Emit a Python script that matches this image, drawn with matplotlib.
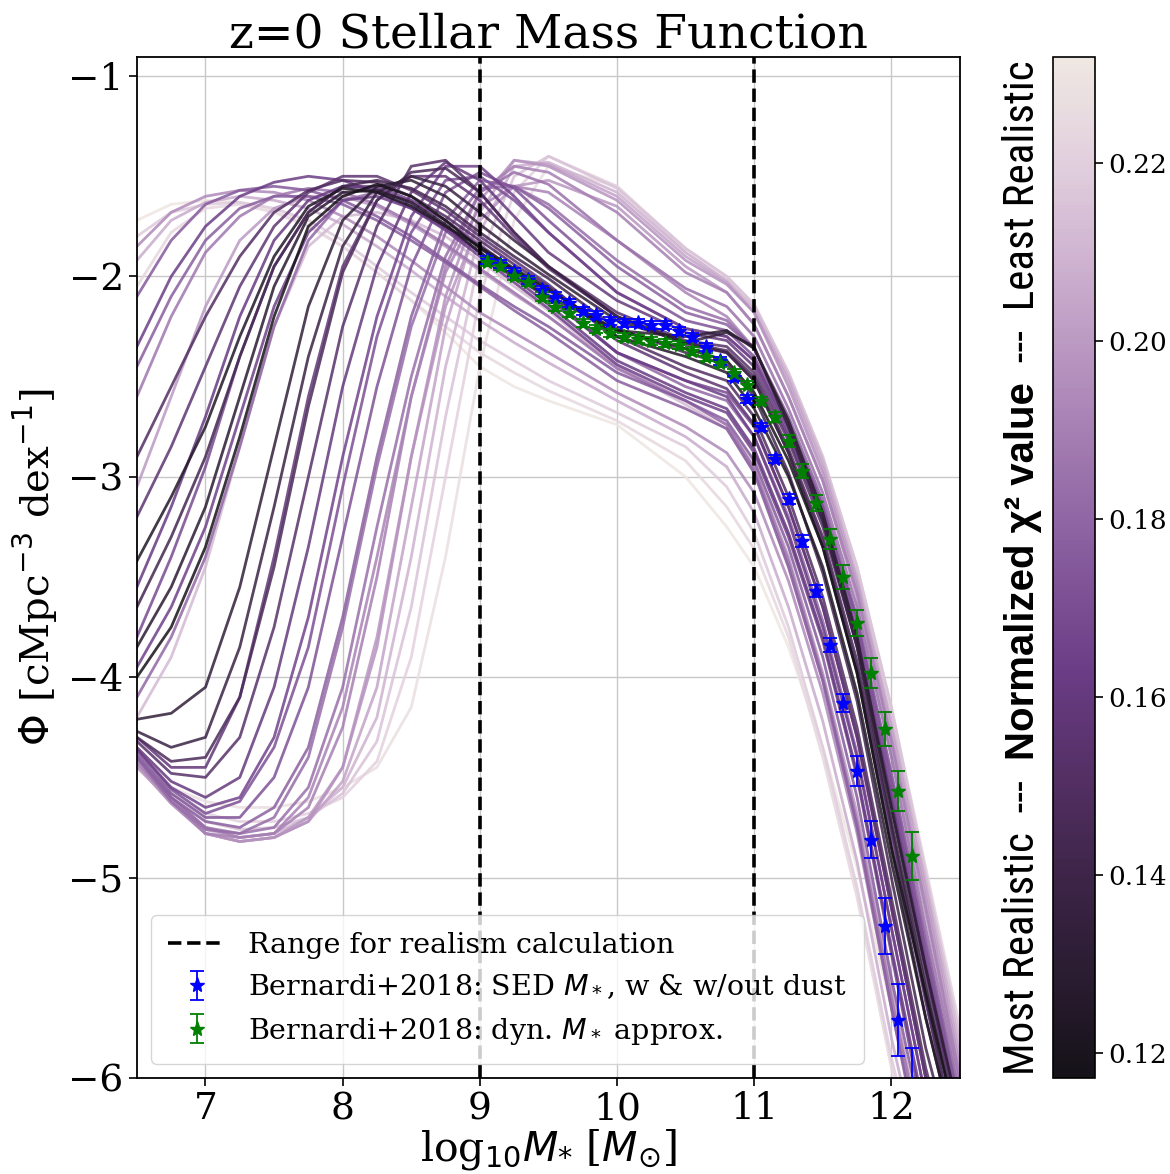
import matplotlib
matplotlib.use("Agg")
import numpy as np
import matplotlib.pyplot as plt
from matplotlib import font_manager as fm
from matplotlib.colors import Normalize, LinearSegmentedColormap
from matplotlib.cm import ScalarMappable

# ---------------- data ----------------
mass_grid = [6.5, 6.75, 7.0, 7.25, 7.5, 7.75, 8.0, 8.25, 8.5, 8.75, 9.0, 9.25, 9.5,
             10.0, 10.5, 10.8, 11.0, 11.25, 11.5, 11.75, 12.0, 12.25, 12.5]

chi2_dark = [0.118, 0.124, 0.128, 0.133, 0.138, 0.142, 0.146]
phi_dark = [
    [-4.00, -3.75, -3.35, -2.80, -2.20, -1.75, -1.60, -1.54, -1.60, -1.72, -1.86, -1.97, -2.07, -2.27, -2.36, -2.42, -2.58, -2.92, -3.35, -3.98, -4.85, -5.58, -6.30],
    [-3.42, -3.10, -2.75, -2.30, -1.90, -1.65, -1.56, -1.58, -1.65, -1.75, -1.85, -1.96, -2.06, -2.30, -2.40, -2.48, -2.66, -3.00, -3.45, -4.08, -4.92, -5.70, -6.40],
    [-3.85, -3.55, -3.15, -2.60, -2.05, -1.70, -1.58, -1.57, -1.63, -1.74, -1.88, -2.00, -2.10, -2.27, -2.30, -2.27, -2.36, -2.72, -3.18, -3.80, -4.65, -5.45, -6.20],
    [-4.21, -4.18, -4.05, -3.55, -2.85, -2.15, -1.72, -1.55, -1.52, -1.60, -1.74, -1.87, -1.99, -2.22, -2.33, -2.28, -2.35, -2.75, -3.22, -3.85, -4.72, -5.55, -6.30],
    [-4.27, -4.35, -4.30, -3.85, -3.15, -2.40, -1.85, -1.58, -1.50, -1.55, -1.68, -1.82, -1.95, -2.20, -2.33, -2.38, -2.52, -2.88, -3.35, -3.98, -4.85, -5.70, -6.40],
    [-3.65, -3.30, -2.90, -2.40, -1.95, -1.68, -1.55, -1.52, -1.56, -1.65, -1.78, -1.90, -2.01, -2.26, -2.38, -2.44, -2.60, -2.98, -3.48, -4.12, -5.00, -5.85, -6.50],
    [-4.30, -4.42, -4.40, -4.10, -3.45, -2.65, -1.98, -1.62, -1.48, -1.46, -1.58, -1.78, -1.95, -2.20, -2.33, -2.37, -2.50, -2.86, -3.30, -3.92, -4.75, -5.60, -6.40],
]

chi2_purple = [0.150, 0.153, 0.156, 0.158, 0.160, 0.162, 0.163, 0.165, 0.166, 0.169, 0.171,
               0.172, 0.175, 0.177, 0.178, 0.181, 0.183, 0.184, 0.187]
phi_purple = [
    [-2.90, -2.55, -2.20, -1.90, -1.68, -1.57, -1.52, -1.53, -1.60, -1.70, -1.82, -1.94, -2.05, -2.30, -2.45, -2.52, -2.70, -3.10, -3.60, -4.25, -5.10, -5.95, -6.60],
    [-4.32, -4.48, -4.50, -4.30, -3.75, -3.00, -2.25, -1.75, -1.45, -1.42, -1.58, -1.78, -1.95, -2.18, -2.32, -2.35, -2.48, -2.82, -3.25, -3.85, -4.65, -5.50, -6.30],
    [-3.20, -2.85, -2.45, -2.05, -1.75, -1.58, -1.50, -1.50, -1.57, -1.67, -1.80, -1.92, -2.04, -2.32, -2.48, -2.56, -2.74, -3.15, -3.65, -4.30, -5.15, -6.00, -6.60],
    [-4.30, -4.45, -4.45, -4.10, -3.40, -2.60, -1.95, -1.62, -1.50, -1.50, -1.62, -1.80, -1.96, -2.20, -2.34, -2.38, -2.52, -2.88, -3.32, -3.95, -4.78, -5.62, -6.40],
    [-4.35, -4.52, -4.60, -4.50, -4.05, -3.35, -2.55, -1.95, -1.58, -1.43, -1.52, -1.70, -1.88, -2.12, -2.28, -2.32, -2.45, -2.80, -3.22, -3.82, -4.62, -5.45, -6.25],
    [-3.55, -3.15, -2.70, -2.20, -1.82, -1.62, -1.55, -1.56, -1.64, -1.75, -1.88, -2.01, -2.14, -2.42, -2.58, -2.66, -2.86, -3.28, -3.80, -4.48, -5.35, -6.20, -6.80],
    [-2.35, -2.00, -1.75, -1.60, -1.53, -1.50, -1.52, -1.58, -1.66, -1.76, -1.88, -2.00, -2.11, -2.38, -2.52, -2.60, -2.80, -3.22, -3.75, -4.40, -5.25, -6.10, -6.70],
    [-3.95, -3.65, -3.25, -2.70, -2.15, -1.78, -1.62, -1.60, -1.66, -1.77, -1.90, -2.03, -2.16, -2.44, -2.60, -2.68, -2.88, -3.30, -3.82, -4.50, -5.38, -6.25, -6.85],
    [-4.36, -4.55, -4.65, -4.60, -4.30, -3.70, -2.90, -2.20, -1.70, -1.45, -1.45, -1.60, -1.78, -2.08, -2.26, -2.30, -2.42, -2.76, -3.18, -3.78, -4.58, -5.42, -6.20],
    [-3.80, -3.40, -2.95, -2.40, -1.95, -1.68, -1.55, -1.55, -1.62, -1.72, -1.85, -1.98, -2.10, -2.38, -2.52, -2.58, -2.75, -3.15, -3.65, -4.30, -5.15, -6.00, -6.60],
    [-4.36, -4.56, -4.68, -4.62, -4.35, -3.85, -3.05, -2.30, -1.78, -1.52, -1.50, -1.62, -1.78, -2.08, -2.26, -2.30, -2.42, -2.78, -3.20, -3.80, -4.60, -5.45, -6.25],
    [-4.38, -4.58, -4.70, -4.70, -4.50, -4.05, -3.30, -2.55, -1.95, -1.58, -1.48, -1.56, -1.72, -2.02, -2.22, -2.27, -2.40, -2.74, -3.15, -3.72, -4.52, -5.36, -6.15],
    [-2.10, -1.82, -1.64, -1.57, -1.55, -1.57, -1.62, -1.70, -1.80, -1.92, -2.04, -2.15, -2.25, -2.48, -2.62, -2.72, -2.92, -3.35, -3.90, -4.60, -5.50, -6.30, -6.90],
    [-2.45, -2.10, -1.82, -1.66, -1.60, -1.60, -1.64, -1.72, -1.82, -1.93, -2.05, -2.17, -2.28, -2.52, -2.66, -2.76, -2.98, -3.45, -4.02, -4.75, -5.65, -6.50, -7.00],
    [-4.40, -4.60, -4.72, -4.75, -4.65, -4.35, -3.70, -2.90, -2.20, -1.72, -1.52, -1.55, -1.66, -1.95, -2.18, -2.24, -2.36, -2.70, -3.12, -3.70, -4.48, -5.32, -6.10],
    [-4.10, -3.80, -3.40, -2.85, -2.25, -1.82, -1.62, -1.58, -1.62, -1.72, -1.84, -1.97, -2.09, -2.38, -2.55, -2.62, -2.80, -3.20, -3.72, -4.38, -5.25, -6.10, -6.70],
    [-4.40, -4.62, -4.76, -4.78, -4.70, -4.40, -3.75, -2.95, -2.25, -1.78, -1.56, -1.55, -1.64, -1.92, -2.15, -2.22, -2.36, -2.72, -3.15, -3.74, -4.52, -5.38, -6.20],
    [-4.40, -4.60, -4.75, -4.78, -4.75, -4.55, -4.05, -3.25, -2.50, -1.90, -1.58, -1.48, -1.54, -1.82, -2.06, -2.15, -2.30, -2.66, -3.08, -3.65, -4.40, -5.25, -6.05],
    [-2.60, -2.20, -1.88, -1.70, -1.60, -1.56, -1.58, -1.64, -1.73, -1.84, -1.96, -2.08, -2.20, -2.46, -2.62, -2.74, -2.96, -3.42, -4.00, -4.72, -5.60, -6.40, -7.00],
]

chi2_light = [0.190, 0.192, 0.194, 0.197, 0.199, 0.200, 0.203, 0.206, 0.209, 0.212, 0.215,
              0.218, 0.221, 0.224, 0.227, 0.231]
phi_light = [
    [-4.42, -4.62, -4.78, -4.80, -4.78, -4.65, -4.25, -3.50, -2.60, -1.95, -1.58, -1.45, -1.48, -1.68, -1.98, -2.08, -2.24, -2.60, -3.02, -3.58, -4.32, -5.15, -6.00],
    [-4.40, -4.60, -4.75, -4.80, -4.78, -4.60, -4.15, -3.40, -2.60, -1.98, -1.65, -1.55, -1.58, -1.82, -2.08, -2.20, -2.36, -2.72, -3.15, -3.72, -4.48, -5.30, -6.15],
    [-1.85, -1.68, -1.60, -1.57, -1.58, -1.62, -1.70, -1.80, -1.92, -2.05, -2.18, -2.28, -2.38, -2.58, -2.75, -2.88, -3.08, -3.52, -4.08, -4.78, -5.65, -6.45, -7.00],
    [-4.43, -4.62, -4.78, -4.82, -4.80, -4.72, -4.45, -3.85, -2.90, -2.10, -1.62, -1.42, -1.45, -1.62, -1.92, -2.04, -2.18, -2.55, -2.98, -3.55, -4.30, -5.10, -5.95],
    [-4.44, -4.63, -4.78, -4.82, -4.80, -4.70, -4.45, -3.80, -2.90, -2.15, -1.72, -1.55, -1.52, -1.65, -1.95, -2.08, -2.24, -2.60, -3.02, -3.60, -4.35, -5.18, -6.00],
    [-3.05, -2.60, -2.15, -1.82, -1.66, -1.60, -1.60, -1.65, -1.74, -1.85, -1.97, -2.09, -2.20, -2.45, -2.62, -2.74, -2.95, -3.40, -3.98, -4.68, -5.55, -6.40, -7.00],
    [-4.44, -4.63, -4.78, -4.82, -4.80, -4.72, -4.52, -4.05, -3.15, -2.25, -1.68, -1.42, -1.44, -1.60, -1.90, -2.03, -2.18, -2.52, -2.95, -3.52, -4.25, -5.05, -5.90],
    [-1.92, -1.72, -1.63, -1.60, -1.62, -1.66, -1.74, -1.85, -1.97, -2.10, -2.22, -2.33, -2.43, -2.62, -2.80, -2.95, -3.18, -3.65, -4.22, -4.92, -5.80, -6.55, -7.00],
    [-4.45, -4.62, -4.76, -4.80, -4.78, -4.70, -4.55, -4.20, -3.40, -2.45, -1.78, -1.45, -1.43, -1.58, -1.88, -2.02, -2.16, -2.50, -2.92, -3.50, -4.22, -5.02, -5.85],
    [-4.20, -3.90, -3.45, -2.85, -2.25, -1.85, -1.70, -1.68, -1.72, -1.80, -1.92, -2.05, -2.17, -2.45, -2.64, -2.76, -2.98, -3.45, -4.02, -4.72, -5.60, -6.45, -7.00],
    [-4.45, -4.60, -4.72, -4.76, -4.75, -4.70, -4.58, -4.32, -3.65, -2.70, -1.90, -1.50, -1.40, -1.56, -1.86, -2.00, -2.14, -2.48, -2.90, -3.45, -4.15, -4.98, -5.80],
    [-1.80, -1.68, -1.64, -1.63, -1.66, -1.72, -1.82, -1.95, -2.08, -2.20, -2.32, -2.42, -2.52, -2.68, -2.85, -3.05, -3.28, -3.75, -4.35, -5.05, -5.90, -6.60, -7.00],
    [-4.45, -4.58, -4.68, -4.72, -4.72, -4.68, -4.60, -4.42, -3.90, -3.00, -2.10, -1.58, -1.40, -1.55, -1.86, -2.00, -2.14, -2.48, -2.90, -3.45, -4.15, -4.95, -5.75],
    [-2.05, -1.78, -1.66, -1.64, -1.68, -1.75, -1.85, -1.98, -2.12, -2.25, -2.38, -2.48, -2.57, -2.72, -2.92, -3.15, -3.36, -3.80, -4.40, -5.10, -5.95, -6.70, -7.00],
    [-4.45, -4.55, -4.62, -4.65, -4.65, -4.62, -4.55, -4.45, -4.15, -3.40, -2.45, -1.72, -1.45, -1.55, -1.88, -2.02, -2.18, -2.50, -2.92, -3.48, -4.20, -5.00, -5.80],
    [-1.72, -1.64, -1.62, -1.63, -1.67, -1.74, -1.85, -1.98, -2.12, -2.28, -2.45, -2.55, -2.62, -2.74, -3.00, -3.25, -3.45, -3.85, -4.35, -4.95, -5.65, -6.40, -7.00],
]

obs_mass = [9.05, 9.15, 9.25, 9.35, 9.45, 9.55, 9.65, 9.75, 9.85, 9.95, 10.05, 10.15, 10.25, 10.35,
            10.45, 10.55, 10.65, 10.75, 10.85, 10.95, 11.05, 11.15, 11.25, 11.35, 11.45, 11.55,
            11.65, 11.75, 11.85, 11.95, 12.05, 12.15]
sed_phi = [-1.92, -1.94, -1.98, -2.02, -2.07, -2.10, -2.13, -2.17, -2.19, -2.22, -2.23, -2.23, -2.24, -2.24,
           -2.27, -2.30, -2.35, -2.42, -2.50, -2.61, -2.75, -2.91, -3.11, -3.32, -3.57, -3.84,
           -4.13, -4.47, -4.81, -5.24, -5.71, -6.05]
sed_err = [0.02, 0.02, 0.02, 0.02, 0.02, 0.02, 0.02, 0.02, 0.02, 0.02, 0.02, 0.02, 0.02, 0.02,
           0.02, 0.02, 0.02, 0.02, 0.02, 0.02, 0.02, 0.02, 0.025, 0.03, 0.03, 0.035,
           0.045, 0.075, 0.09, 0.14, 0.18, 0.20]
dyn_phi = [-1.93, -1.95, -2.00, -2.03, -2.10, -2.15, -2.18, -2.23, -2.26, -2.28, -2.30, -2.31, -2.32, -2.33,
           -2.34, -2.37, -2.40, -2.43, -2.48, -2.54, -2.62, -2.70, -2.82, -2.97, -3.13, -3.31,
           -3.50, -3.73, -3.98, -4.26, -4.57, -4.89]
dyn_err = [0.02, 0.02, 0.02, 0.02, 0.02, 0.02, 0.02, 0.02, 0.02, 0.02, 0.02, 0.02, 0.02, 0.02,
           0.02, 0.02, 0.02, 0.02, 0.02, 0.02, 0.02, 0.025, 0.03, 0.035, 0.04, 0.05,
           0.06, 0.065, 0.075, 0.085, 0.10, 0.12]

realism_range = [9.0, 11.0]
x_ticks = [7, 8, 9, 10, 11, 12]
y_ticks = [-1, -2, -3, -4, -5, -6]
cbar_ticks = [0.12, 0.14, 0.16, 0.18, 0.20, 0.22]
chi2_min, chi2_max = 0.1172, 0.2319
cmap_colors = ['#151218', '#2a1c31', '#3e2549', '#553066', '#6b3d86', '#84589b',
               '#9d75ad', '#b693bf', '#ceb2d0', '#e2d0de', '#efe8e2']

# ---------------- styling ----------------
plt.rcParams['font.family'] = ['DejaVu Serif']
plt.rcParams['mathtext.fontset'] = 'dejavusans'

fig = plt.figure(figsize=(11.7, 11.74), dpi=100)
ax = fig.add_axes([0.117, 0.0818, 0.7035, 0.8696])
cax = fig.add_axes([0.900, 0.0818, 0.036, 0.8696])

cmap = LinearSegmentedColormap.from_list('chi2', cmap_colors)
norm = Normalize(chi2_min, chi2_max)

all_chi = chi2_dark + chi2_purple + chi2_light
all_phi = phi_dark + phi_purple + phi_light
order = np.argsort(all_chi)[::-1]
for i in order:
    ax.plot(mass_grid, all_phi[i], color=cmap(norm(all_chi[i])), lw=2.0, alpha=0.85, zorder=2)

ax.axvline(realism_range[0], color='k', ls='--', lw=2.6, zorder=3,
           label='Range for realism calculation')
ax.axvline(realism_range[1], color='k', ls='--', lw=2.6, zorder=3)

ax.errorbar(obs_mass, sed_phi, yerr=sed_err, fmt='*', color='blue', ms=11,
            capsize=5, elinewidth=1.3, capthick=1.3, zorder=4,
            label=r'Bernardi+2018: SED $M_*$, w & w/out dust')
ax.errorbar(obs_mass, dyn_phi, yerr=dyn_err, fmt='*', color='green', ms=11,
            capsize=5, elinewidth=1.3, capthick=1.3, zorder=4,
            label=r'Bernardi+2018: dyn. $M_*$ approx.')

ax.set_xlim(6.5, 12.5)
ax.set_ylim(-6.0, -0.905)
ax.set_xticks(x_ticks)
ax.set_yticks(y_ticks)
ax.grid(True, color='#c8c8c8', lw=1.0, zorder=0)
ax.set_axisbelow(True)
ax.tick_params(labelsize=27, length=6, width=1.2)
for s in ax.spines.values():
    s.set_linewidth(1.3)

ax.set_title('z=0 Stellar Mass Function', fontsize=34, pad=5)
ax.set_xlabel(r'log$_{10}M_{*}$ [$M_{\odot}$]', fontsize=29.5, labelpad=0)
ax.set_ylabel(r'$\Phi$ [cMpc$^{-3}$ dex$^{-1}$]', fontsize=29, labelpad=6)

leg = ax.legend(loc='lower left', fontsize=20.5, framealpha=0.8,
                borderpad=0.6, handlelength=2.0)

cb = fig.colorbar(ScalarMappable(norm=norm, cmap=cmap), cax=cax)
cb.set_ticks(cbar_ticks)
cb.set_ticklabels([f'{t:.2f}' for t in cbar_ticks])
cax.tick_params(labelsize=19, length=6, width=1.2)
cb.outline.set_linewidth(1.2)


# ---- colorbar label: narrow regular font, bold middle part ----
def _stretch_val(st):
    if isinstance(st, (int, float)):
        return st
    return {'ultra-condensed': 100, 'extra-condensed': 200, 'condensed': 300,
            'semi-condensed': 400, 'normal': 500}.get(str(st), 500)


def _weight_val(w):
    if isinstance(w, (int, float)):
        return w
    return {'bold': 700, 'semibold': 600, 'demibold': 600, 'normal': 400,
            'regular': 400, 'medium': 500, 'light': 300}.get(str(w), 400)


pref = ['Liberation Sans Narrow', 'Roboto Condensed', 'DejaVu Sans', 'Noto Sans',
        'Open Sans', 'Roboto', 'Liberation Sans']


def find_narrow(bold):
    best = None
    for f in fm.fontManager.ttflist:
        if f.style != 'normal':
            continue
        narrowish = ('Narrow' in f.name or 'Condensed' in f.name or
                     _stretch_val(f.stretch) <= 400)
        if not narrowish or 'Serif' in f.name or 'Mono' in f.name:
            continue
        rank = pref.index(f.name) if f.name in pref else len(pref)
        wdiff = abs(_weight_val(f.weight) - (700 if bold else 400))
        key = (wdiff > 150, rank, wdiff)
        if best is None or key < best[0]:
            best = (key, f)
    return None if best is None else best[1].fname


reg_file = find_narrow(False)
bold_file = fm.findfont(fm.FontProperties(family='Liberation Sans', weight='bold'))
pieces = [('Most Realistic  ---  ', False),
          ('Normalized \u03c7\u00b2 value', True),
          ('  ---  Least Realistic', False)]
lab_x = 1034 / 1170
target_len = 1012 / 1174
fs = 27
texts = []
for s, b in pieces:
    if b:
        fp = fm.FontProperties(fname=bold_file, size=fs * 0.93)
    elif reg_file is not None:
        fp = fm.FontProperties(fname=reg_file, size=fs)
    else:
        fp = fm.FontProperties(family='DejaVu Sans', size=fs)
    t = fig.text(lab_x, 0.5, s, rotation=90, rotation_mode='anchor',
                 ha='left', va='baseline', fontproperties=fp)
    texts.append(t)
fig.canvas.draw()
r = fig.canvas.get_renderer()
H = fig.bbox.height
lens = [t.get_window_extent(r).height / H for t in texts]
scale = target_len / sum(lens)
for t in texts:
    t.set_fontsize(t.get_fontsize() * scale)
fig.canvas.draw()
lens = [t.get_window_extent(r).height / H for t in texts]
y0 = (0.0818 + 0.8696 / 2) - sum(lens) / 2
for t, L in zip(texts, lens):
    t.set_position((lab_x, y0))
    y0 += L

fig.savefig('out.png', dpi=100)
